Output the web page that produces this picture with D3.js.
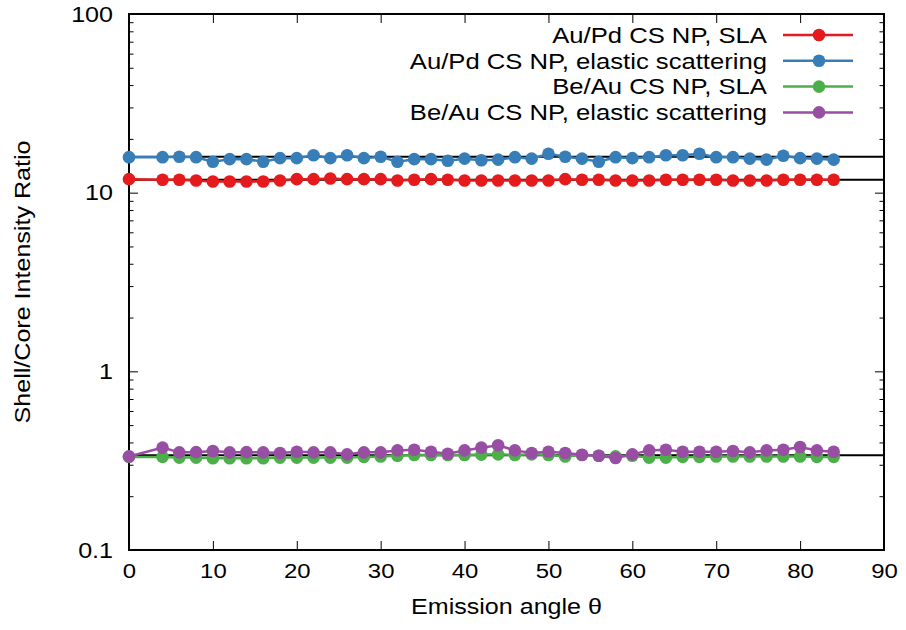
<!DOCTYPE html>
<html>
<head>
<meta charset="utf-8">
<script src="https://cdn.jsdelivr.net/npm/d3@7"></script>
<style>
  body { margin: 0; background: #fff; }
  text { font-family: "Liberation Sans", Arial, sans-serif; fill: #000; }
  /* the original text is a bit wider than it is tall */
  .wide-c { transform-box: fill-box; transform-origin: center; transform: scaleX(1.14); }
  .wide-r { transform-box: fill-box; transform-origin: right center; transform: scaleX(1.14); }
</style>
</head>
<body>
<div id="chart"></div>
<script>
// emission angles (deg)
var angles = [0, 4, 6, 8, 10, 12, 14, 16, 18, 20, 22, 24, 26, 28, 30, 32, 34, 36, 38, 40,
  42, 44, 46, 48, 50, 52, 54, 56, 58, 60, 62, 64, 66, 68, 70, 72, 74, 76, 78, 80, 82, 84];

var auPdSLA = [11.9, 11.8, 11.8, 11.7, 11.55, 11.55, 11.55, 11.55, 11.7, 11.9, 11.9, 12.0, 11.9, 11.9,
  11.9, 11.7, 11.8, 11.9, 11.8, 11.7, 11.7, 11.7, 11.7, 11.7, 11.7, 11.9, 11.8, 11.8, 11.7, 11.7,
  11.7, 11.8, 11.8, 11.8, 11.8, 11.7, 11.7, 11.7, 11.8, 11.8, 11.8, 11.8];

var auPdElastic = [15.8, 15.8, 15.9, 15.8, 14.9, 15.4, 15.4, 14.9, 15.6, 15.6, 16.2, 15.6, 16.2, 15.6,
  15.9, 14.9, 15.4, 15.4, 15.1, 15.5, 15.2, 15.3, 15.8, 15.5, 16.5, 15.9, 15.5, 14.9, 15.8, 15.6,
  15.8, 16.2, 16.2, 16.5, 15.8, 15.8, 15.5, 15.3, 16.1, 15.6, 15.5, 15.3];

var beAuSLA = [0.332, 0.332, 0.329, 0.329, 0.326, 0.326, 0.326, 0.326, 0.329, 0.329, 0.329, 0.329,
  0.329, 0.332, 0.334, 0.337, 0.340, 0.340, 0.340, 0.340, 0.342, 0.343, 0.340, 0.343, 0.340, 0.334,
  0.340, 0.337, 0.334, 0.337, 0.329, 0.329, 0.332, 0.332, 0.334, 0.334, 0.334, 0.334, 0.334, 0.334,
  0.332, 0.332];

var beAuElastic = [0.334, 0.374, 0.352, 0.353, 0.358, 0.352, 0.353, 0.352, 0.349, 0.355, 0.352, 0.352,
  0.343, 0.352, 0.352, 0.361, 0.364, 0.355, 0.346, 0.361, 0.374, 0.386, 0.361, 0.349, 0.355, 0.349,
  0.341, 0.337, 0.327, 0.343, 0.361, 0.364, 0.355, 0.355, 0.355, 0.358, 0.352, 0.361, 0.364, 0.377,
  0.361, 0.355];

// constant (mean) reference lines
var meanLevels = [15.9, 11.8, 0.339];

var seriesNames = ["Au/Pd CS NP, SLA", "Au/Pd CS NP, elastic scattering",
  "Be/Au CS NP, SLA", "Be/Au CS NP, elastic scattering"];
var seriesColors = ["#e41a1c", "#377eb8", "#4daf4a", "#984ea3"];
var seriesValues = [auPdSLA, auPdElastic, beAuSLA, beAuElastic];

var xTicks = [0, 10, 20, 30, 40, 50, 60, 70, 80, 90];
var yTicks = [0.1, 1, 10, 100];
var yTickLabels = ["0.1", "1", "10", "100"];

var svgWidth = 906;
var svgHeight = 630;
var margin = { top: 14, right: 22, bottom: 80, left: 129 };
var chartWidth = svgWidth - margin.left - margin.right;
var chartHeight = svgHeight - margin.top - margin.bottom;

var svg = d3.select("#chart")
  .append("svg")
  .attr("width", svgWidth)
  .attr("height", svgHeight);

var chartGroup = svg.append("g")
  .attr("transform", `translate(${margin.left}, ${margin.top})`);

var xScale = d3.scaleLinear().domain([0, 90]).range([0, chartWidth]);
var yScale = d3.scaleLog().domain([0.1, 100]).range([chartHeight, 0]);

// minor ticks for the log axis
var minorTicks = [];
[0.1, 1, 10].forEach(function(d) {
  for (var k = 2; k <= 9; k++) minorTicks.push(d * k);
});

// axes with inward ticks (mirrored on top/right)
function styleAxis(g) {
  g.select(".domain").remove();
  g.selectAll("line").attr("stroke", "#000").attr("stroke-width", 1);
}

chartGroup.append("g")
  .attr("transform", `translate(0, ${chartHeight})`)
  .call(d3.axisBottom(xScale).tickValues(xTicks).tickSize(-9).tickPadding(13).tickFormat(d3.format("d")))
  .call(styleAxis)
  .selectAll("text").attr("class", "wide-c").style("font-size", "21px");

chartGroup.append("g")
  .call(d3.axisTop(xScale).tickValues(xTicks).tickSize(-9).tickFormat(""))
  .call(styleAxis);

chartGroup.append("g")
  .call(d3.axisLeft(yScale).tickValues(yTicks).tickSize(-9).tickPadding(16)
    .tickFormat(function(d, i) { return yTickLabels[i]; }))
  .call(styleAxis)
  .selectAll("text").attr("class", "wide-r").style("font-size", "22px");

chartGroup.append("g")
  .call(d3.axisLeft(yScale).tickValues(minorTicks).tickSize(-4.5).tickFormat(""))
  .call(styleAxis);

chartGroup.append("g")
  .attr("transform", `translate(${chartWidth}, 0)`)
  .call(d3.axisRight(yScale).tickValues(yTicks).tickSize(-9).tickFormat(""))
  .call(styleAxis);

chartGroup.append("g")
  .attr("transform", `translate(${chartWidth}, 0)`)
  .call(d3.axisRight(yScale).tickValues(minorTicks).tickSize(-4.5).tickFormat(""))
  .call(styleAxis);

// frame
chartGroup.append("rect")
  .attr("width", chartWidth)
  .attr("height", chartHeight)
  .attr("fill", "none")
  .attr("stroke", "#000")
  .attr("stroke-width", 2);

// mean lines
chartGroup.selectAll(".mean")
  .data(meanLevels)
  .enter()
  .append("line")
  .attr("x1", xScale(0))
  .attr("x2", xScale(90))
  .attr("y1", d => yScale(d))
  .attr("y2", d => yScale(d))
  .attr("stroke", "#000")
  .attr("stroke-width", 2);

var line = d3.line()
  .x((d, i) => xScale(angles[i]))
  .y(d => yScale(d));

seriesValues.forEach(function(vals, s) {
  chartGroup.append("path")
    .datum(vals)
    .attr("d", line)
    .attr("fill", "none")
    .attr("stroke", seriesColors[s])
    .attr("stroke-width", 2.5);

  chartGroup.selectAll(".pt" + s)
    .data(vals)
    .enter()
    .append("circle")
    .attr("cx", (d, i) => xScale(angles[i]))
    .attr("cy", d => yScale(d))
    .attr("r", 6.3)
    .attr("fill", seriesColors[s]);
});

// legend
var legend = svg.append("g");
seriesNames.forEach(function(name, i) {
  var y = 35 + i * 25.8;
  legend.append("text")
    .attr("class", "wide-r")
    .attr("x", 767)
    .attr("y", y)
    .attr("dy", "0.35em")
    .attr("text-anchor", "end")
    .style("font-size", "22.5px")
    .text(name);
  legend.append("line")
    .attr("x1", 783).attr("x2", 853)
    .attr("y1", y).attr("y2", y)
    .attr("stroke", seriesColors[i])
    .attr("stroke-width", 2.5);
  legend.append("circle")
    .attr("cx", 819).attr("cy", y).attr("r", 6.3)
    .attr("fill", seriesColors[i]);
});

// axis titles
svg.append("text")
  .attr("class", "wide-c")
  .attr("x", margin.left + chartWidth / 2)
  .attr("y", 606)
  .attr("dy", "0.35em")
  .attr("text-anchor", "middle")
  .style("font-size", "22px")
  .text("Emission angle θ");

svg.append("g")
  .attr("transform", `translate(22, ${margin.top + chartHeight / 2}) rotate(-90)`)
  .append("text")
  .attr("class", "wide-c")
  .attr("dy", "0.35em")
  .attr("text-anchor", "middle")
  .style("font-size", "22px")
  .text("Shell/Core Intensity Ratio");
</script>
</body>
</html>
